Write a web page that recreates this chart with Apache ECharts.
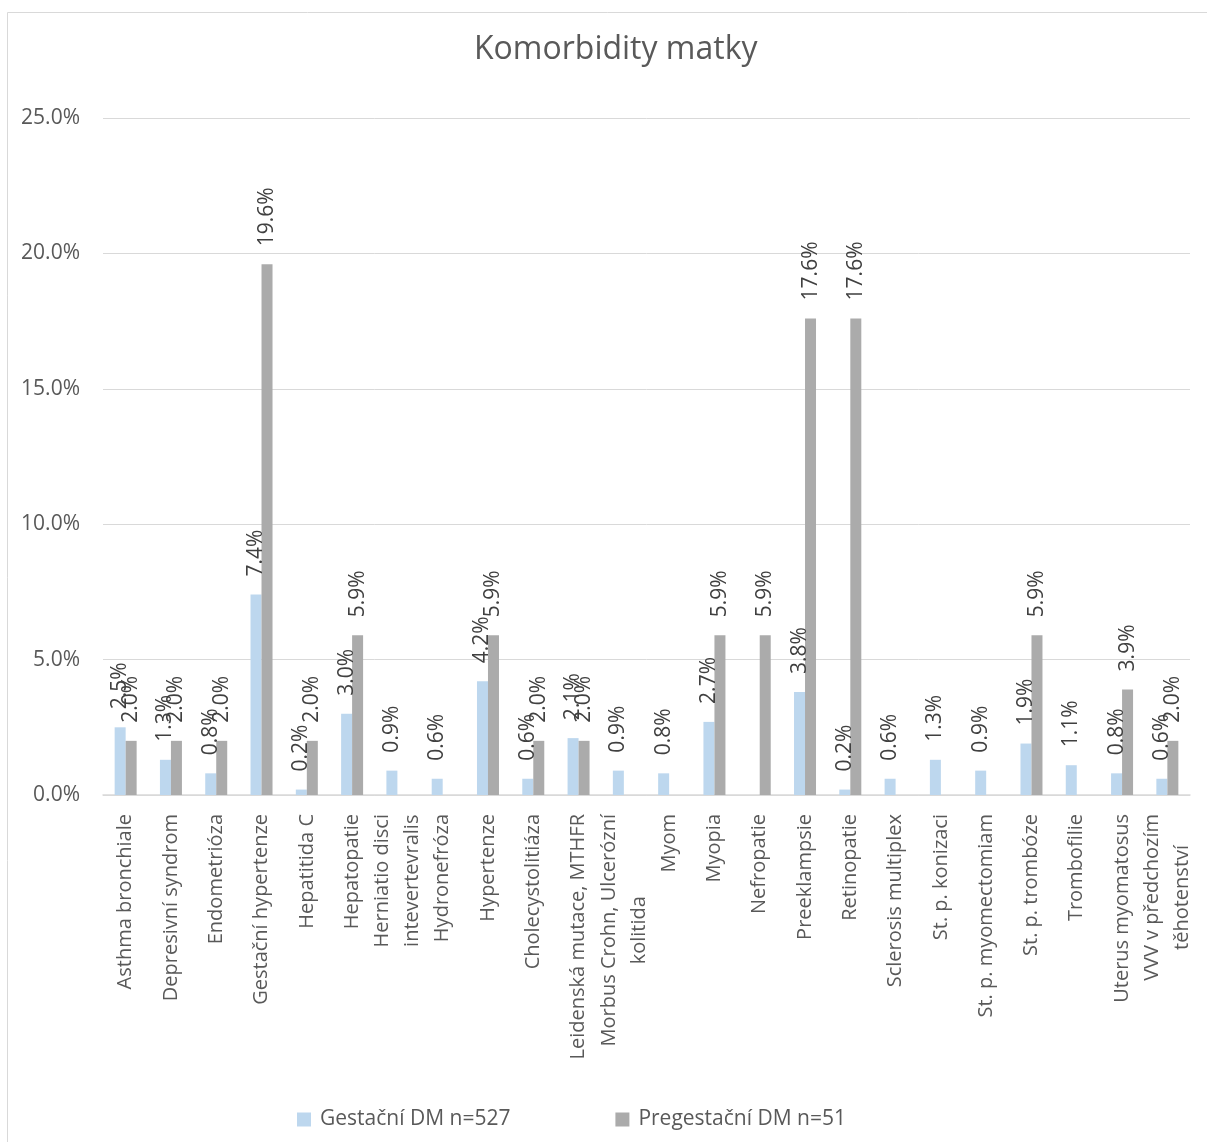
<!DOCTYPE html>
<html>
<head>
<meta charset="utf-8">
<title>Komorbidity matky</title>
<script src="https://cdn.jsdelivr.net/npm/echarts@6/dist/echarts.min.js"></script>
<style>
  html, body { margin: 0; padding: 0; background: #ffffff; }
  #chart { width: 1207px; height: 1142px; }
</style>
</head>
<body>
<div id="chart"></div>
<script>
// Comorbidity categories (line breaks follow the wrapped axis labels)
const categories = [
  'Asthma bronchiale',
  'Depresivní syndrom',
  'Endometrióza',
  'Gestační hypertenze',
  'Hepatitida C',
  'Hepatopatie',
  'Herniatio disci\nintevertevralis',
  'Hydronefróza',
  'Hypertenze',
  'Cholecystolitiáza',
  'Leidenská mutace, MTHFR',
  'Morbus Crohn, Ulcerózní\nkolitida',
  'Myom',
  'Myopia',
  'Nefropatie',
  'Preeklampsie',
  'Retinopatie',
  'Sclerosis multiplex',
  'St. p. konizaci',
  'St. p. myomectomiam',
  'St. p. trombóze',
  'Trombofilie',
  'Uterus myomatosus',
  'VVV v předchozím\ntěhotenství'
];

// Share of patients (%) – null where the comorbidity did not occur
const gestacniDM = [2.5, 1.3, 0.8, 7.4, 0.2, 3.0, 0.9, 0.6, 4.2, 0.6, 2.1, 0.9, 0.8, 2.7, null, 3.8, 0.2, 0.6, 1.3, 0.9, 1.9, 1.1, 0.8, 0.6];
const pregestacniDM = [2.0, 2.0, 2.0, 19.6, 2.0, 5.9, null, null, 5.9, 2.0, 2.0, null, null, 5.9, 5.9, 17.6, 17.6, null, null, null, 5.9, null, 3.9, 2.0];

const seriesNames = ['Gestační DM n=527', 'Pregestační DM n=51'];
const yTicks = [0, 5, 10, 15, 20, 25];

const FONT = '"Open Sans", "Noto Sans", sans-serif';
const TEXT = '#595959';

const chart = echarts.init(document.getElementById('chart'), null, { renderer: 'canvas' });

const valueLabel = {
  show: true,
  position: 'top',
  rotate: 90,
  align: 'left',
  verticalAlign: 'middle',
  distance: 18,
  fontFamily: FONT,
  fontSize: 21,
  color: '#404040',
  formatter: p => p.value == null ? '' : p.value.toFixed(1) + '%'
};

chart.setOption({
  backgroundColor: '#ffffff',
  animation: false,
  title: {
    text: 'Komorbidity matky',
    left: 469,
    top: 29,
    textStyle: { fontFamily: FONT, fontSize: 32, fontWeight: 'normal', color: TEXT }
  },
  legend: {
    data: seriesNames,
    top: 1104,
    left: 292,
    itemWidth: 14,
    itemHeight: 14,
    itemGap: 105,
    icon: 'rect',
    textStyle: { fontFamily: FONT, fontSize: 21, color: TEXT, padding: [0, 0, 0, 4] }
  },
  graphic: [{
    type: 'rect',
    shape: { x: 7.5, y: 12.5, width: 1400, height: 1400 },
    style: { fill: 'none', stroke: '#D9D9D9', lineWidth: 1 },
    silent: true
  }],
  grid: { left: 103, right: 17, top: 118, bottom: 347, containLabel: false },
  xAxis: {
    type: 'category',
    data: categories,
    axisTick: { show: false },
    axisLine: { show: true, lineStyle: { color: '#D9D9D9', width: 1.5 } },
    axisLabel: {
      interval: 0,
      rotate: 90,
      margin: 19,
      fontFamily: FONT,
      fontSize: 20,
      color: TEXT,
      lineHeight: 30,
      formatter: v => v.split('\n').map(l => '{c|' + l + '}').join('\n'),
      rich: {
        c: { align: 'center', fontFamily: FONT, fontSize: 20, color: TEXT, lineHeight: 30 }
      }
    }
  },
  yAxis: {
    type: 'value',
    min: 0,
    max: 25,
    interval: 5,
    axisLine: { show: false },
    axisTick: { show: false },
    splitLine: { lineStyle: { color: '#D9D9D9', width: 1 } },
    axisLabel: {
      margin: 23,
      fontFamily: FONT,
      fontSize: 21,
      color: TEXT,
      formatter: v => yTicks.includes(v) ? v.toFixed(1) + '%' : ''
    }
  },
  series: [
    {
      name: seriesNames[0],
      type: 'bar',
      data: gestacniDM,
      barWidth: 11,
      barGap: '0%',
      itemStyle: { color: '#BDD7EE' },
      label: valueLabel
    },
    {
      name: seriesNames[1],
      type: 'bar',
      data: pregestacniDM,
      barWidth: 11,
      barGap: '0%',
      itemStyle: { color: '#ABABAB' },
      label: valueLabel
    }
  ]
});
</script>
</body>
</html>
